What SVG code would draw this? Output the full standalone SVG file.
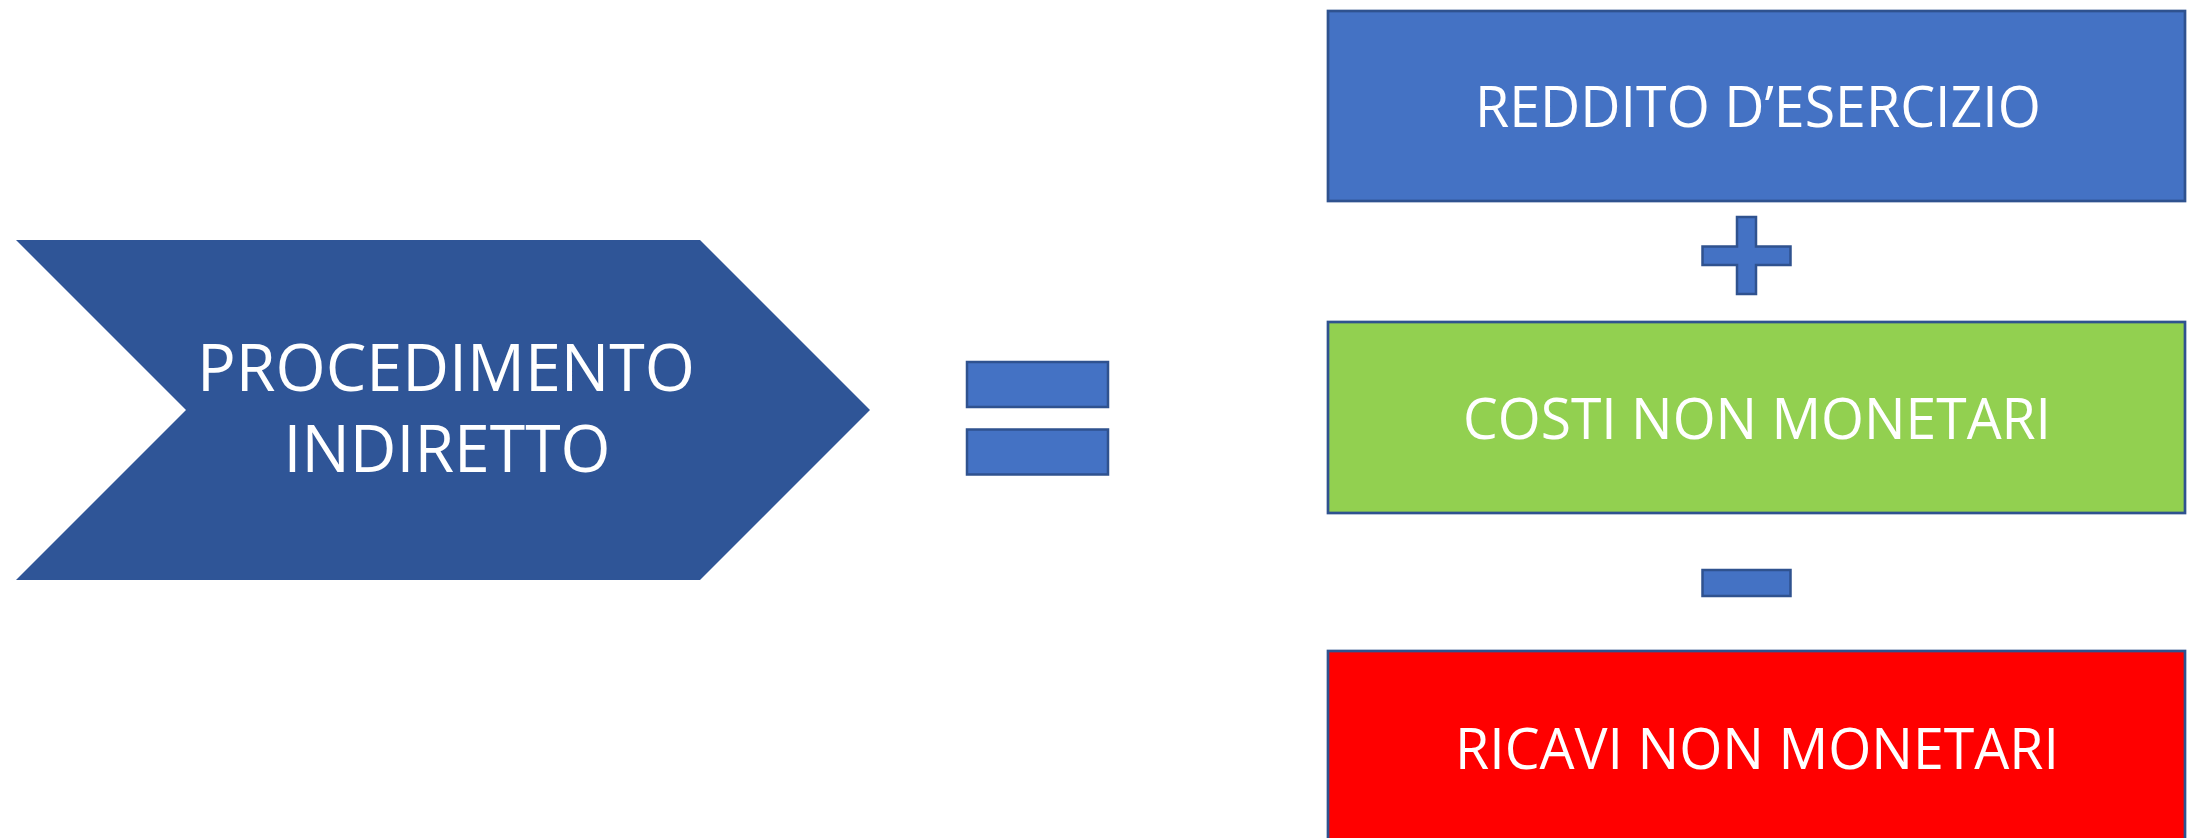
<svg xmlns="http://www.w3.org/2000/svg" width="2188" height="838" viewBox="0 0 2188 838">
  <style>
    .lbl { font-family: "Open Sans", "Liberation Sans", sans-serif; fill: #FFFFFF; text-anchor: middle; }
    .big { font-size: 65px; }
    .mid { font-size: 56px; }
    .op { fill: #4472C4; stroke: #2F528F; stroke-width: 2.5; }
    .box { stroke: #2F528F; stroke-width: 2.7; }
  </style>
  <rect width="2188" height="838" fill="#FFFFFF"/>
  <g id="procedimento">
    <polygon points="16,240 700,240 870,410 700,580 16,580 186,410" fill="#2F5597"/>
    <text class="lbl big" x="446" y="391" textLength="498" lengthAdjust="spacingAndGlyphs">PROCEDIMENTO</text>
    <text class="lbl big" x="447" y="472" textLength="327" lengthAdjust="spacingAndGlyphs">INDIRETTO</text>
  </g>
  <g id="uguale">
    <rect class="op" x="967" y="362" width="141" height="45"/>
    <rect class="op" x="967" y="429.5" width="141" height="45"/>
  </g>
  <g id="reddito">
    <rect class="box" x="1328" y="11" width="857" height="190" fill="#4472C4"/>
    <text class="lbl mid" x="1758" y="127" textLength="566" lengthAdjust="spacingAndGlyphs">REDDITO D’ESERCIZIO</text>
  </g>
  <g id="piu">
    <polygon class="op" points="1737,217 1756,217 1756,246.5 1790.5,246.5 1790.5,265 1756,265 1756,294 1737,294 1737,265 1702.5,265 1702.5,246.5 1737,246.5"/>
  </g>
  <g id="costi">
    <rect class="box" x="1328" y="322" width="857" height="191" fill="#92D050"/>
    <text class="lbl mid" x="1757" y="439" textLength="588" lengthAdjust="spacingAndGlyphs">COSTI NON MONETARI</text>
  </g>
  <g id="meno">
    <rect class="op" x="1702.5" y="570" width="88" height="26"/>
  </g>
  <g id="ricavi">
    <rect class="box" x="1328" y="651" width="857" height="192" fill="#FF0000"/>
    <text class="lbl mid" x="1757" y="769" textLength="604" lengthAdjust="spacingAndGlyphs">RICAVI NON MONETARI</text>
  </g>
  <g id="connectors"/>
</svg>
